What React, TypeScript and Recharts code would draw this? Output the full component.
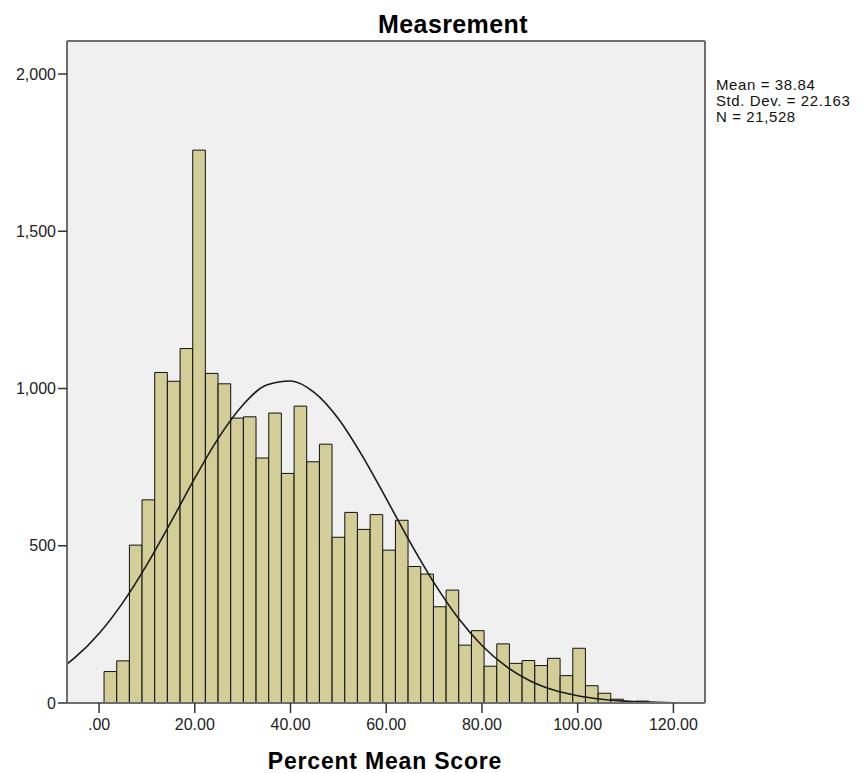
import React from 'react';
import { ComposedChart, Bar, Line, XAxis, YAxis, CartesianGrid } from 'recharts';

// Histogram bins (bin centers, Percent Mean Score) and counts
const binCenters = [
  2.36, 5.01, 7.66, 10.30, 12.95, 15.60, 18.25, 20.89, 23.54, 26.19,
  28.83, 31.48, 34.13, 36.77, 39.42, 42.07, 44.72, 47.36, 50.01, 52.66,
  55.30, 57.95, 60.60, 63.24, 65.89, 68.54, 71.19, 73.83, 76.48, 79.13,
  81.77, 84.42, 87.07, 89.71, 92.36, 95.01, 97.66, 100.30, 102.95, 105.60,
  108.24, 110.89, 113.54,
];
const binCounts = [
  100, 134, 502, 646, 1051, 1023, 1127, 1758, 1048, 1015,
  906, 910, 779, 922, 730, 944, 767, 823, 527, 606,
  552, 599, 486, 581, 434, 410, 306, 359, 184, 230,
  117, 188, 126, 135, 119, 142, 87, 174, 55, 31,
  12, 3, 6,
];

// Normal curve
const curveX = [-6.7, -5, 0, 5, 10, 15, 20, 25, 30, 35, 40, 45, 50, 55, 60, 65, 70, 75, 80, 85, 90, 95, 100, 105, 110, 115, 120, 126.6];
const curveY = [124, 145, 221, 320, 440, 575, 715, 844, 947, 1011, 1024, 987, 904, 786, 650, 511, 382, 271, 183, 117, 71, 41, 23, 12, 6, 3, 1, 0];

const xTicks = [0, 20, 40, 60, 80, 100, 120];
const yTicks = [0, 500, 1000, 1500, 2000];
const statLines = ['Mean = 38.84', 'Std. Dev. = 22.163', 'N = 21,528'];
const title = 'Measrement';
const xTitle = 'Percent Mean Score';

const X_DOMAIN: [number, number] = [-6.7, 126.6];
const Y_DOMAIN: [number, number] = [0, 2105];
const BIN_WIDTH = 2.635;

const W = 862;
const H = 773;
const M = { top: 41, right: 157, bottom: 0, left: 0 };
const Y_AXIS_W = 67;
const X_AXIS_H = 70;
const plotW = W - M.left - M.right - Y_AXIS_W;
const barPx = (BIN_WIDTH * plotW) / (X_DOMAIN[1] - X_DOMAIN[0]);

const histData = binCenters.map((x, i) => ({ x, count: binCounts[i] }));
const curveData = curveX.map((x, i) => ({ x, fit: curveY[i] }));

const FONT = '"Liberation Sans", Arial, Helvetica, sans-serif';
const BORDER_COLOR = '#6e6e6e';
const BORDER = { stroke: BORDER_COLOR, strokeWidth: 2 };

const fmtX = (v: number) => (v === 0 ? '.00' : v.toFixed(2));
const fmtY = (v: number) => v.toLocaleString('en-US');

const topEdge = ({ offset }: any) => [offset.top];
const rightEdge = ({ offset }: any) => [offset.left + offset.width];

export default function App() {
  return (
    <div style={{ position: 'absolute', left: 0, top: 0, width: W, height: H, background: '#fff' }}>
      <ComposedChart width={W} height={H} data={histData} margin={M} style={{ fontFamily: FONT }}>
        <CartesianGrid
          xAxisId="main"
          fill="#f0f0f0"
          stroke={BORDER_COLOR}
          strokeWidth={2}
          horizontalCoordinatesGenerator={topEdge}
          verticalCoordinatesGenerator={rightEdge}
        />
        <XAxis
          xAxisId="main"
          type="number"
          dataKey="x"
          domain={X_DOMAIN}
          allowDataOverflow
          ticks={xTicks}
          interval={0}
          tickFormatter={fmtX}
          height={X_AXIS_H}
          tickSize={10}
          tickMargin={6}
          axisLine={BORDER}
          tickLine={{ stroke: '#333', strokeWidth: 1.5 }}
          tick={{ fill: '#222', fontSize: 16, fontFamily: FONT }}
        />
        <XAxis
          xAxisId="bins"
          orientation="top"
          type="number"
          dataKey="x"
          domain={X_DOMAIN}
          allowDataOverflow
          height={0}
          tick={false}
          tickLine={false}
          axisLine={false}
        />
        <YAxis
          type="number"
          domain={Y_DOMAIN}
          allowDataOverflow
          ticks={yTicks}
          interval={0}
          tickFormatter={fmtY}
          width={Y_AXIS_W}
          tickSize={9}
          tickMargin={2}
          axisLine={BORDER}
          tickLine={{ stroke: '#333', strokeWidth: 1.5 }}
          tick={{ fill: '#222', fontSize: 16, fontFamily: FONT }}
        />
        <Bar
          xAxisId="bins"
          dataKey="count"
          fill="#d3ce97"
          stroke="#111"
          strokeWidth={1}
          barSize={barPx}
          isAnimationActive={false}
        />
        <Line
          xAxisId="main"
          data={curveData}
          dataKey="fit"
          type="monotone"
          stroke="#1a1a1a"
          strokeWidth={1.6}
          dot={false}
          activeDot={false}
          isAnimationActive={false}
        />
        <text x={453} y={33} textAnchor="middle" fontSize={25} fontWeight="bold" fontFamily={FONT} fill="#000" letterSpacing={0.4}>
          {title}
        </text>
        <text x={385} y={769} textAnchor="middle" fontSize={23} fontWeight="bold" fontFamily={FONT} fill="#000" letterSpacing={0.8}>
          {xTitle}
        </text>
        {statLines.map((s, i) => (
          <text key={s} x={716} y={90 + i * 16} fontSize={15} fontFamily={FONT} fill="#111" letterSpacing={0.6}>
            {s}
          </text>
        ))}
      </ComposedChart>
    </div>
  );
}
